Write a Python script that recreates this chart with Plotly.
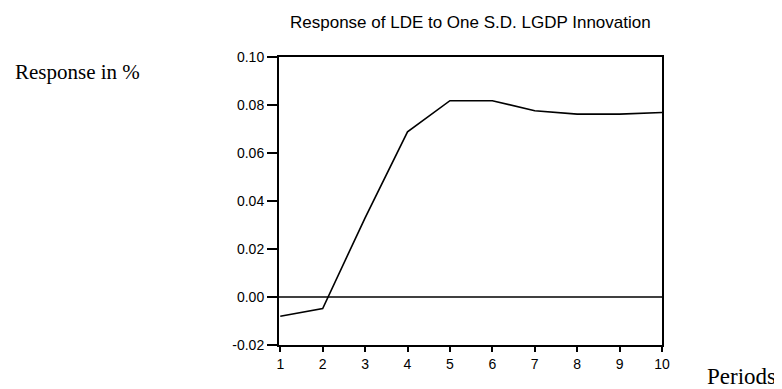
import plotly.graph_objects as go

periods = [1, 2, 3, 4, 5, 6, 7, 8, 9, 10]
response = [-0.008, -0.0048, 0.033, 0.0688, 0.0818, 0.0818, 0.0776, 0.0762, 0.0762, 0.0769]
y_tickvals = [-0.02, 0.00, 0.02, 0.04, 0.06, 0.08, 0.10]
y_ticktext = ["-0.02", "0.00", "0.02", "0.04", "0.06", "0.08", "0.10"]
title_text = "Response of LDE to One S.D. LGDP Innovation"
ylabel_text = "Response in %"
xlabel_text = "Periods"

# page body has an 8px margin, so the figure is drawn 8px in from the corner
W, H = 774, 381
L, R, T, B = 271, 120, 49, 44
pw = W - L - R
ph = H - T - B


def px(x):
    return (x - L) / pw


def py(y):
    return (H - B - y) / ph


fig = go.Figure()
fig.add_trace(go.Scatter(x=periods, y=response, mode="lines",
                         line=dict(color="black", width=1.6), showlegend=False))
fig.add_hline(y=0, line=dict(color="black", width=1.6))

fig.update_layout(
    width=W, height=H,
    margin=dict(l=L, r=R, t=T, b=B, autoexpand=False),
    paper_bgcolor="white", plot_bgcolor="white",
    font=dict(family="Liberation Sans, Arial, sans-serif", size=14, color="black"),
    xaxis=dict(range=[0.97, 10], tickvals=periods, ticks="outside", ticklen=5,
               tickwidth=1.5, tickcolor="black", showline=True, linewidth=2,
               linecolor="black", mirror=True, showgrid=False, zeroline=False),
    yaxis=dict(range=[-0.02, 0.10], tickvals=y_tickvals, ticktext=y_ticktext,
               ticks="outside", ticklen=10, tickwidth=1.5, tickcolor="black",
               showline=True, linewidth=2, linecolor="black", mirror=True,
               showgrid=False, zeroline=False),
)
fig.add_annotation(text=title_text, x=px(462), y=py(14), xref="paper", yref="paper",
                   xanchor="center", yanchor="middle", showarrow=False,
                   font=dict(size=17, family="Liberation Sans"))
fig.add_annotation(text=ylabel_text, x=px(5), y=py(64), xref="paper", yref="paper",
                   xanchor="left", yanchor="middle", showarrow=False,
                   font=dict(size=21, family="Liberation Serif"))
fig.add_annotation(text=xlabel_text, x=px(770), y=py(368), xref="paper", yref="paper",
                   xanchor="right", yanchor="middle", showarrow=False,
                   font=dict(size=23, family="Liberation Serif"))

fig.write_html("out.html")
